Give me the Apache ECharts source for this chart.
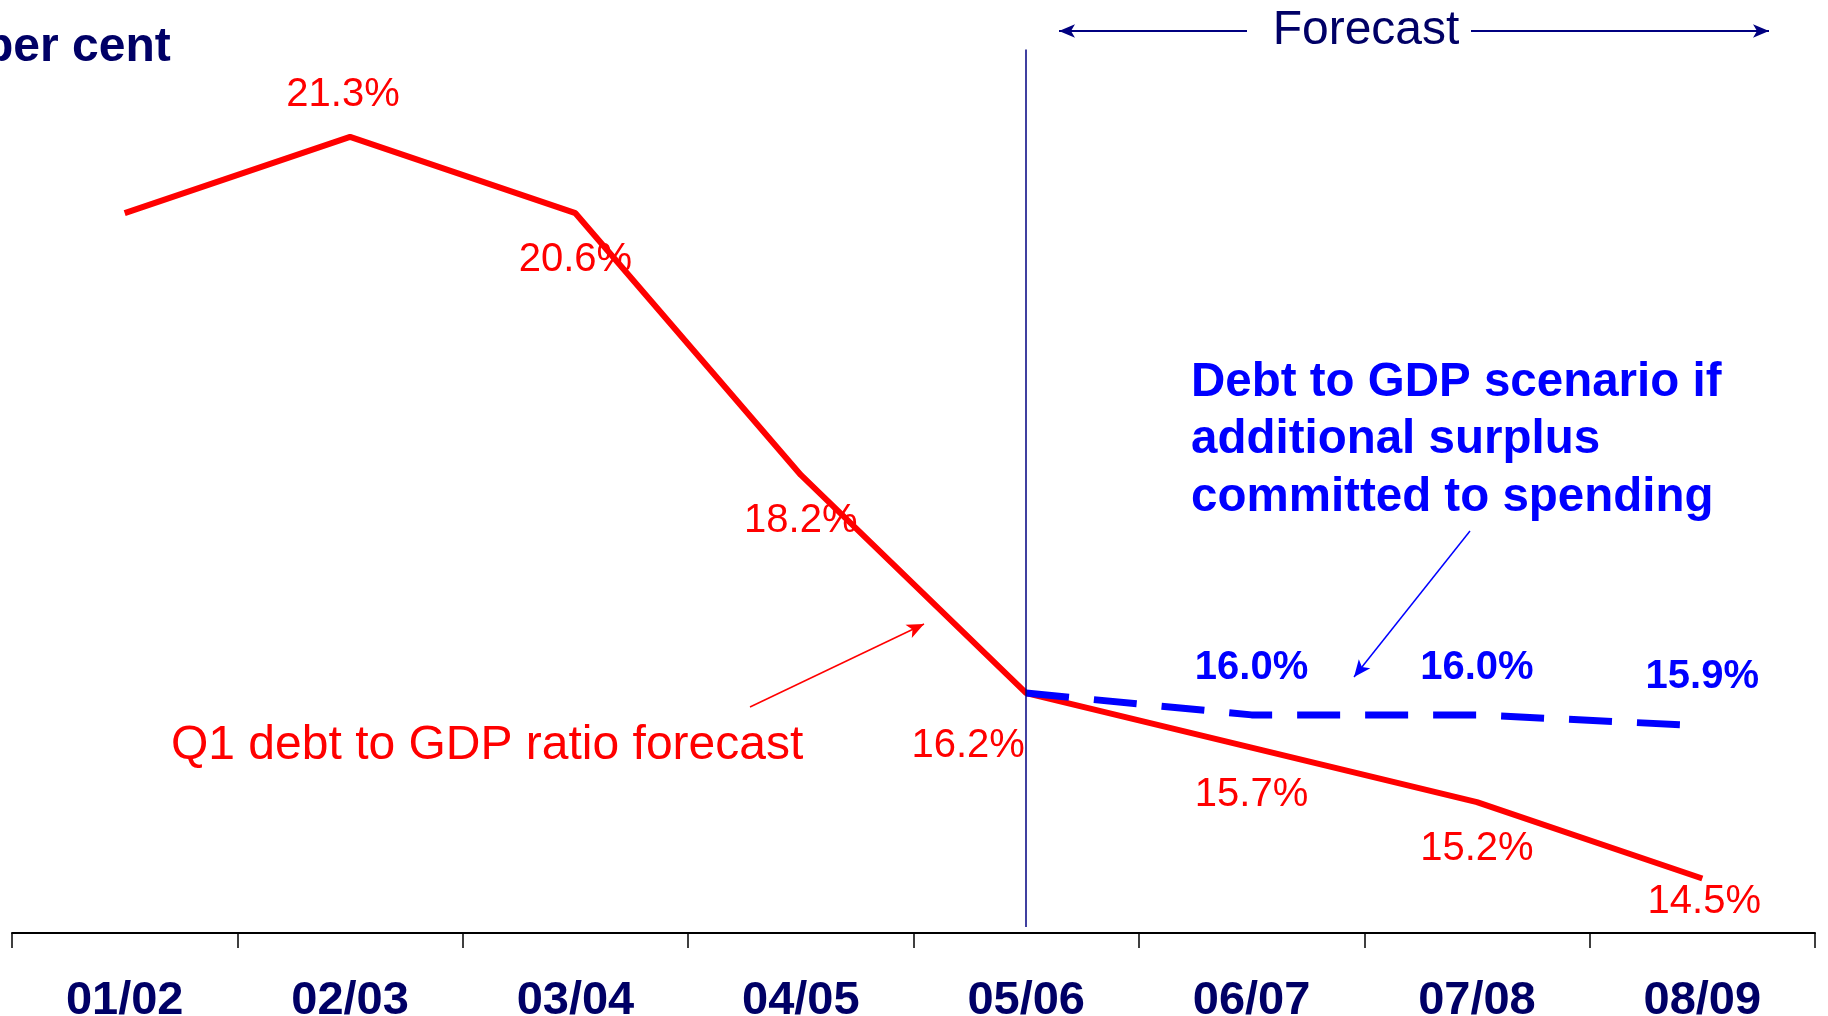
<!DOCTYPE html>
<html>
<head>
<meta charset="utf-8">
<title>Debt to GDP forecast</title>
<script src="https://cdn.jsdelivr.net/npm/echarts@6/dist/echarts.min.js"></script>
<style>
  html, body { margin: 0; padding: 0; background: #fff; }
  #chart { width: 1828px; height: 1016px; }
</style>
</head>
<body>
<div id="chart"></div>
<script>
// categories (financial years)
const categories = ['01/02', '02/03', '03/04', '04/05', '05/06', '06/07', '07/08', '08/09'];
// Q1 debt to GDP ratio forecast, per cent
const debtForecast = [20.6, 21.3, 20.6, 18.2, 16.2, 15.7, 15.2, 14.5];
// scenario if additional surplus committed to spending
const spendingScenario = [null, null, null, null, 16.2, 16.0, 16.0, 15.9];

// label offsets from each point (null = no label)
const redLabelOffsets = [null, [-7, -42], [0, 47], [0, 46], [-58, 53], [0, 47], [0, 47], [2, 23]];
const blueLabelOffsets = [null, null, null, null, null, [0, -47], [0, -47], [0, -49]];

const FONT = '"Liberation Sans", Arial, sans-serif';
const NAVY = '#000066';

function withLabels(values, offsets, labelStyle) {
  return values.map((v, i) => ({
    value: v,
    label: offsets[i] ? Object.assign({ show: true, offset: offsets[i] }, labelStyle) : { show: false },
  }));
}

const chart = echarts.init(document.getElementById('chart'));

chart.setOption({
  animation: false,
  grid: { left: 12, right: 13, top: 6, bottom: 83, outerBoundsMode: 'none' },
  xAxis: {
    type: 'category',
    data: categories,
    boundaryGap: true,
    axisLine: { lineStyle: { color: '#000', width: 2 } },
    axisTick: { show: true, length: 15, lineStyle: { color: '#000', width: 1.5 } },
    axisLabel: {
      margin: 45,
      color: NAVY,
      fontFamily: FONT,
      fontWeight: 'bold',
      fontSize: 47,
    },
    splitLine: { show: false },
  },
  yAxis: {
    type: 'value',
    min: 14,
    max: 22.5,
    show: false,
  },
  series: [
    {
      name: 'Q1 debt to GDP ratio forecast',
      type: 'line',
      data: withLabels(debtForecast, redLabelOffsets, {
        position: 'inside',
        color: '#ff0000',
        fontFamily: FONT,
        fontSize: 40,
        formatter: (p) => p.value.toFixed(1) + '%',
      }),
      symbol: 'circle',
      symbolSize: 1,
      itemStyle: { color: 'rgba(255,0,0,0)' },
      lineStyle: { color: '#ff0000', width: 6 },
      emphasis: { disabled: true },
      silent: true,
      z: 3,
      markLine: {
        silent: true,
        animation: false,
        label: { show: false },
        emphasis: { disabled: true },
        data: [
          // forecast divider
          [
            { coord: ['05/06', 22.1], symbol: 'none', lineStyle: { color: '#000080', width: 1.5, type: 'solid' } },
            { coord: ['05/06', 14.055], symbol: 'none' },
          ],
          // red annotation arrow
          [
            { x: 750, y: 707, symbol: 'none', lineStyle: { color: '#ff0000', width: 1.5, type: 'solid' } },
            { x: 924, y: 624, symbol: 'arrow', symbolSize: [11, 17] },
          ],
        ],
      },
    },
    {
      name: 'Debt to GDP scenario',
      type: 'line',
      data: withLabels(spendingScenario, blueLabelOffsets, {
        position: 'inside',
        color: '#0000ff',
        fontFamily: FONT,
        fontWeight: 'bold',
        fontSize: 40,
        formatter: (p) => p.value.toFixed(1) + '%',
      }),
      symbol: 'circle',
      symbolSize: 1,
      itemStyle: { color: 'rgba(0,0,255,0)' },
      lineStyle: { color: '#0000ff', width: 7, type: [43, 25] },
      emphasis: { disabled: true },
      silent: true,
      z: 4,
      markLine: {
        silent: true,
        animation: false,
        label: { show: false },
        emphasis: { disabled: true },
        data: [
          // blue annotation arrow
          [
            { x: 1470, y: 531, symbol: 'none', lineStyle: { color: '#0000ff', width: 1.5, type: 'solid' } },
            { x: 1354, y: 677, symbol: 'arrow', symbolSize: [11, 17] },
          ],
          // forecast arrows
          [
            { x: 1247, y: 31, symbol: 'none', lineStyle: { color: '#000080', width: 2, type: 'solid' } },
            { x: 1059, y: 31, symbol: 'arrow', symbolSize: [10, 16] },
          ],
          [
            { x: 1471, y: 31, symbol: 'none', lineStyle: { color: '#000080', width: 2, type: 'solid' } },
            { x: 1769, y: 31, symbol: 'arrow', symbolSize: [10, 16] },
          ],
        ],
      },
    },
  ],
  graphic: [
    {
      type: 'text',
      left: -16,
      top: 24,
      style: { text: 'per cent', fill: NAVY, font: 'bold 48px ' + FONT },
    },
    {
      type: 'text',
      x: 1366,
      y: 31,
      style: { text: 'Forecast', fill: NAVY, font: '48px ' + FONT, align: 'center', verticalAlign: 'middle' },
    },
    {
      type: 'text',
      x: 1191,
      y: 354,
      style: {
        text: 'Debt to GDP scenario if\nadditional surplus\ncommitted to spending',
        fill: '#0000ff',
        font: 'bold 47.5px ' + FONT,
        lineHeight: 57.5,
        verticalAlign: 'top',
      },
    },
    {
      type: 'text',
      x: 171,
      y: 746,
      style: { text: 'Q1 debt to GDP ratio forecast', fill: '#ff0000', font: '48px ' + FONT, verticalAlign: 'middle' },
    },
  ],
});
</script>
</body>
</html>
